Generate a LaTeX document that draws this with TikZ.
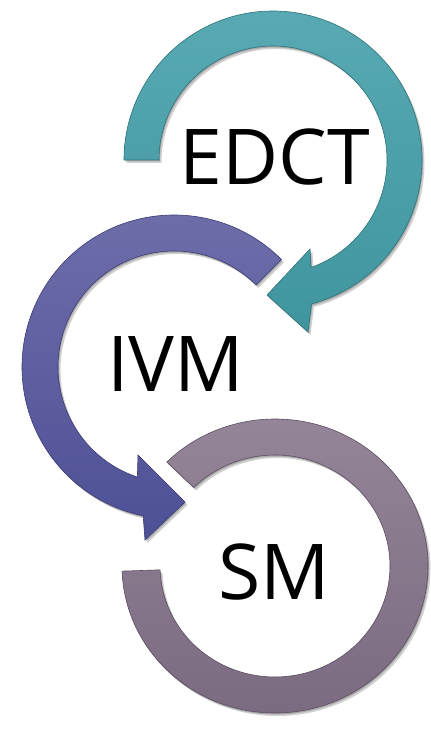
\documentclass[tikz,border=0pt]{standalone}
\usepackage{fontspec}
\setmainfont{Open Sans}
\usetikzlibrary{shadows}
\definecolor{tealT}{HTML}{58A9B3}
\definecolor{tealB}{HTML}{3F959E}
\definecolor{tealD}{HTML}{2E737B}
\definecolor{purT}{HTML}{6E6EAA}
\definecolor{purB}{HTML}{4E5096}
\definecolor{purD}{HTML}{3A3B74}
\definecolor{mauT}{HTML}{958699}
\definecolor{mauB}{HTML}{7A6A80}
\definecolor{mauD}{HTML}{5C4E62}
\begin{document}
\begin{tikzpicture}[x=1pt,y=1pt,
  ring/.style={line width=0.6pt,
    drop shadow={shadow xshift=2.5pt,shadow yshift=-3pt,opacity=0.18,fill=black},
    drop shadow={shadow xshift=1pt,shadow yshift=-1.5pt,opacity=0.2,fill=black}},
  lbl/.style={font=\fontsize{77}{80}\selectfont, inner sep=0pt, text=black}]
\useasboundingbox (0,0) rectangle (431,729);
\fill[white] (0,0) rectangle (431,729);
% mauve ring (SM)
\begin{scope}[shift={(275,163)}]
\path[ring, draw=mauD, top color=mauT, bottom color=mauB]
  (135:153 and 147) arc[start angle=135,end angle=-178,x radius=153,y radius=147]
  -- (-178:115 and 111) arc[start angle=-178,end angle=135,x radius=115,y radius=111]
  -- cycle;
\end{scope}
% purple ring (IVM)
\begin{scope}[shift={(174,362)}]
\path[ring, draw=purD, top color=purT, bottom color=purB]
  (45:152) arc[start angle=45,end angle=258.3,radius=152]
  -- (-29,-173) -- (11,-135) -- (-36,-88)
  -- (251.6:116) arc[start angle=251.6,end angle=45,radius=116]
  -- cycle;
\end{scope}
% teal ring (EDCT)
\begin{scope}[shift={(273,569)}]
\path[ring, draw=tealD, top color=tealT, bottom color=tealB]
  (180:149) arc[start angle=180,end angle=-75,radius=149]
  -- (35,-172) -- (-6,-135) -- (37,-89)
  -- (-70.5:114) arc[start angle=-70.5,end angle=180,radius=114]
  -- cycle;
\end{scope}
\node[lbl] (edct) at (275,571.5) {EDCT};
\node[lbl] (ivm) at (175.5,364.5) {IVM};
\node[lbl] (sm) at (274,157.5) {SM};
\end{tikzpicture}
\end{document}
